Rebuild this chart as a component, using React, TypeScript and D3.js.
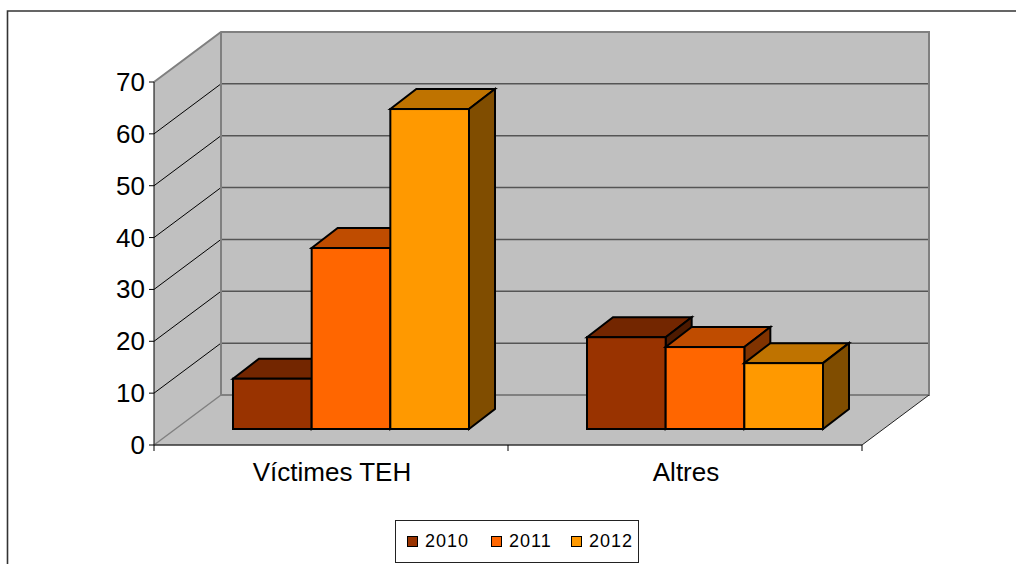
import React from 'react';
import * as d3 from 'd3';

const categories = ['Víctimes TEH', 'Altres'];
const seriesNames = ['2010', '2011', '2012'];
const values2010 = [9.7, 17.7];
const values2011 = [34.9, 15.8];
const values2012 = [61.7, 12.7];
const yTicks = [0, 10, 20, 30, 40, 50, 60, 70];
const frontColors = ['#993300', '#FF6600', '#FF9900'];
const topColors = ['#732600', '#BF4C00', '#BF7300'];
const sideColors = ['#4D1A00', '#803300', '#804D00'];
const seriesValues = [values2010, values2011, values2012];

const x0 = 154, x1 = 862, y0 = 445, y70 = 82;
const dx = 67, dy = -50;
const wall = '#C0C0C0';

const xScale = d3.scaleBand<string>().domain(categories).range([x0, x1]);
const yScale = d3.scaleLinear().domain([0, 70]).range([y0, y70]);
const bw = xScale.bandwidth() / 4.5;
const pad = bw * 0.75;
const bx = 20, by = -16;
const ddx = 26, ddy = -20;

const pts = (p: number[][]) => p.map(q => q.join(',')).join(' ');

export default function App() {
  const ya = yScale(70), yz = yScale(0);
  return (
    <svg width={1016} height={564} style={{ position: 'absolute', left: 0, top: 0, background: '#fff' }} fontFamily="'Liberation Sans', Arial, sans-serif">
      <path d="M7.5 564V11H1016" fill="none" stroke="#333" strokeWidth={1.6} />
      {/* side wall, floor, back wall */}
      <polygon points={pts([[x0, ya], [x0 + dx, ya + dy], [x0 + dx, yz + dy], [x0, yz]])} fill={wall} />
      <polygon points={pts([[x0, yz], [x0 + dx, yz + dy], [x1 + dx, yz + dy], [x1, yz]])} fill={wall} />
      <rect x={x0 + dx} y={ya + dy} width={x1 - x0} height={yz - ya} fill={wall} />
      {/* gridlines */}
      {yTicks.slice(1, -1).map(t => (
        <g key={t}>
          <line x1={x0} y1={yScale(t)} x2={x0 + dx} y2={yScale(t) + dy} stroke="#000" strokeWidth={1} />
          <line x1={x0 + dx} y1={yScale(t) + dy} x2={x1 + dx} y2={yScale(t) + dy} stroke="#555" strokeWidth={1.5} />
        </g>
      ))}
      {/* wall edges */}
      <path d={`M${x0} ${ya}L${x0 + dx} ${ya + dy}H${x1 + dx}V${yz + dy}H${x0 + dx}V${ya + dy}`} fill="none" stroke="#808080" strokeWidth={2} />
      <line x1={x0} y1={yz} x2={x0 + dx} y2={yz + dy} stroke="#808080" strokeWidth={1.5} />
      <line x1={x1} y1={yz} x2={x1 + dx} y2={yz + dy} stroke="#222" strokeWidth={1} />
      {/* bars */}
      {categories.map((c, ci) =>
        seriesValues.map((vals, si) => {
          const left = xScale(c)! + pad + si * bw + bx;
          const right = left + bw;
          const bottom = yScale(0) + by;
          const top = yScale(vals[ci]) + by;
          return (
            <g key={c + si} stroke="#000" strokeWidth={2} strokeLinejoin="miter">
              <polygon points={pts([[left, top], [left + ddx, top + ddy], [right + ddx, top + ddy], [right, top]])} fill={topColors[si]} />
              <polygon points={pts([[right, top], [right + ddx, top + ddy], [right + ddx, bottom + ddy], [right, bottom]])} fill={sideColors[si]} />
              <rect x={left} y={top} width={bw} height={bottom - top} fill={frontColors[si]} />
            </g>
          );
        })
      )}
      {/* axes */}
      <line x1={x0} y1={ya} x2={x0} y2={yz} stroke="#000" strokeWidth={1} />
      <line x1={x0} y1={yz} x2={x1} y2={yz} stroke="#333" strokeWidth={1.5} />
      {yTicks.map(t => (
        <g key={t}>
          <line x1={x0 - 5} y1={yScale(t)} x2={x0} y2={yScale(t)} stroke="#000" strokeWidth={1} />
          <text x={x0 - 9} y={yScale(t) + 9} textAnchor="end" fontSize={26} fill="#000">{t}</text>
        </g>
      ))}
      {[x0, xScale(categories[1])!, x1].map(x => (
        <line key={x} x1={x} y1={yz} x2={x} y2={yz + 6} stroke="#000" strokeWidth={1} />
      ))}
      {categories.map(c => (
        <text key={c} x={xScale(c)! + xScale.bandwidth() / 2 + 1} y={481} textAnchor="middle" fontSize={26} fill="#000">{c}</text>
      ))}
      {/* legend */}
      <rect x={395.5} y={520.5} width={243} height={42} fill="#fff" stroke="#222" strokeWidth={1} />
      {seriesNames.map((s, i) => {
        const lx = [407, 491, 571][i];
        return (
          <g key={s}>
            <rect x={lx + 0.5} y={536.5} width={10} height={10} fill={frontColors[i]} stroke="#000" strokeWidth={1} />
            <text x={lx + 18} y={547} fontSize={18} letterSpacing={1} fill="#000">{s}</text>
          </g>
        );
      })}
    </svg>
  );
}
